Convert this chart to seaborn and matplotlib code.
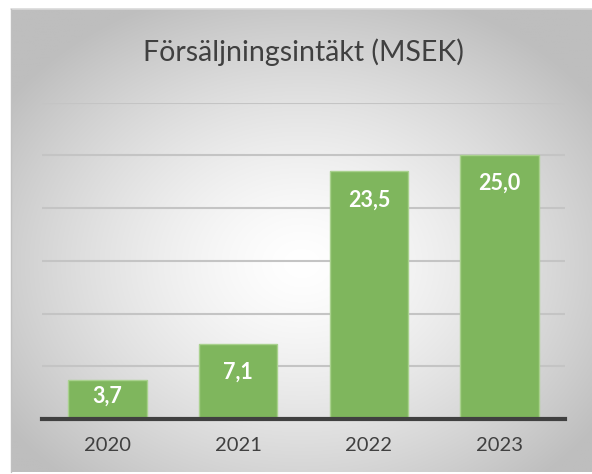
import numpy as np
import pandas as pd
import matplotlib
matplotlib.use("Agg")
import matplotlib.pyplot as plt
import seaborn as sns

years = ["2020", "2021", "2022", "2023"]
values = [3.7, 7.1, 23.5, 25.0]
value_labels = ["3,7", "7,1", "23,5", "25,0"]
title = "Försäljningsintäkt (MSEK)"

sns.set_theme(style="white")
plt.rcParams["font.family"] = ["Lato", "DejaVu Sans"]

W, H = 592, 474
fig = plt.figure(figsize=(W / 100, H / 100), dpi=100)
fig.patch.set_facecolor("white")

# panel background with radial gradient
px0, py0, px1, py1 = 10.5, 9, 592, 472
bg = fig.add_axes([px0 / W, 1 - py1 / H, (px1 - px0) / W, (py1 - py0) / H])
nx, ny = 300, 240
xx, yy = np.meshgrid(np.linspace(-1, 1, nx), np.linspace(-1, 1, ny))
cx, cy = 0.0, 0.1
r = np.sqrt(((xx - cx) / 1.0) ** 2 + ((yy - cy) / 1.0) ** 2)
val = 255 - 48 * np.clip(r, 0, 1.6) ** 1.4
val = np.clip(val, 190, 255) / 255.0
img = np.dstack([val, val, val])
bg.imshow(img, aspect="auto", extent=[0, 1, 0, 1], interpolation="bilinear")
bg.set_xlim(0, 1)
bg.set_ylim(0, 1)
bg.axis("off")
bg.plot([0, 1], [0.999, 0.999], color="#d9d9d9", lw=1.2, transform=bg.transAxes, clip_on=False)
bg.plot([0.0005, 0.0005], [0, 1], color="#c0c0c0", lw=1.0, transform=bg.transAxes, clip_on=False)

# main axes
ax_l, ax_r, ax_t, ax_b = 42, 565, 102.7, 419
ax = fig.add_axes([ax_l / W, 1 - ax_b / H, (ax_r - ax_l) / W, (ax_b - ax_t) / H])
ax.patch.set_alpha(0)

df = pd.DataFrame({"year": years, "value": values})
sns.barplot(data=df, x="year", y="value", ax=ax, color="#7fb65d", width=0.6,
            edgecolor="#a9d18e", linewidth=1.0, saturation=1, zorder=3)

ax.set_ylim(0, 30)
ax.set_yticks(np.arange(0, 31, 5))
ax.set_yticklabels([])
ax.tick_params(axis="y", length=0)
ax.grid(axis="y", color="#c4c4c4", lw=1.5, zorder=0)
ax.set_axisbelow(True)
for s in ["left", "right", "top"]:
    ax.spines[s].set_visible(False)
ax.spines["bottom"].set_color("#404040")
ax.spines["bottom"].set_linewidth(3)
ax.spines["bottom"].set_zorder(4)
ax.set_xlabel("")
ax.set_ylabel("")
ax.tick_params(axis="x", length=0, pad=13, labelsize=14.5, labelcolor="#404040")

offsets = [-16, -28, -29, -28]
for i, (v, lab) in enumerate(zip(values, value_labels)):
    ax.annotate(lab, xy=(i, v), xytext=(0, offsets[i] * 0.72), textcoords="offset points",
                ha="center", va="center", color="white", fontsize=15.5, fontweight="bold", zorder=5)

fig.text(303 / W, 1 - 52 / H, title, ha="center", va="center", fontsize=20.5, color="#404040")

fig.savefig("out.png", dpi=100)
